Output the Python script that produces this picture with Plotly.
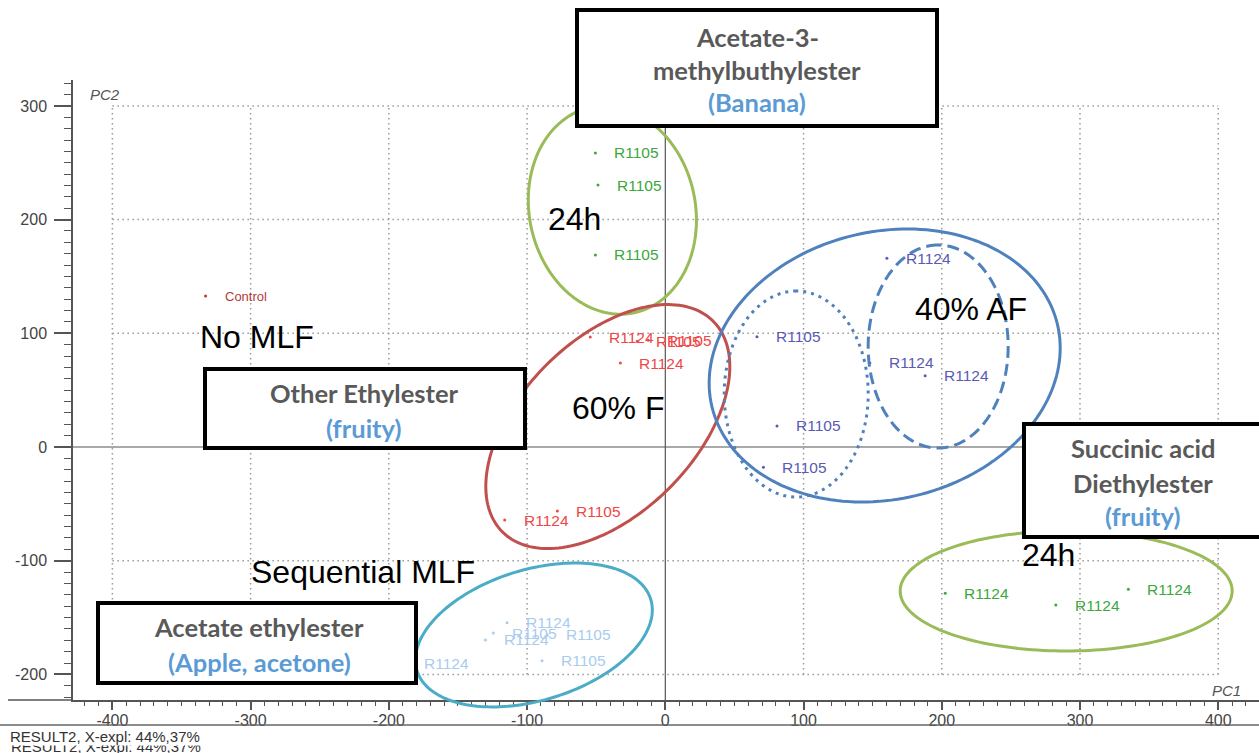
import numpy as np
import plotly.graph_objects as go

# ---------------- scores (PC1, PC2) ----------------
control_x = [-332.6]
control_y = [132.8]
control_lbl = ["Control"]

r1105_24h_x = [-50.6, -48.7, -50.6]
r1105_24h_y = [258.6, 230.4, 168.9]
r1105_24h_lbl = ["R1105", "R1105", "R1105"]

f60_x = [-54.3, -20.3, -12.3, -32.5, -116.2, -78.1]
f60_y = [96.7, 93.0, 94.0, 73.9, -64.2, -56.3]
f60_lbl = ["R1124", "R1105", "R1105", "R1124", "R1124", "R1105"]

af40_x = [160.3, 66.3, 148.0, 188.0, 80.8, 71.0]
af40_y = [166.0, 97.0, 74.0, 62.7, 18.5, -17.9]
af40_lbl = ["R1124", "R1105", "R1124", "R1124", "R1105", "R1105"]

seq_x = [-114.5, -124.4, -130.2, -85.3, -89.2, -188.0]
seq_y = [-154.5, -163.6, -169.7, -165.3, -188.0, -190.0]
seq_lbl = ["R1124", "R1105", "R1124", "R1105", "R1105", "R1124"]

r1124_24h_x = [202.5, 282.5, 335.0]
r1124_24h_y = [-128.7, -139.0, -125.2]
r1124_24h_lbl = ["R1124", "R1124", "R1124"]

x_ticks = [-400, -300, -200, -100, 0, 100, 200, 300, 400]
y_ticks = [-200, -100, 0, 100, 200, 300]

# ---------------- page geometry ----------------
W, H = 1259, 753
ML, MR, MT, MB = 73, 0, 80, 53
PW, PH = W - ML - MR, H - MT - MB
X_RANGE = [-428.5, 429.5]
Y_RANGE = [-222.5, 322.8]
X_PX = PW / (X_RANGE[1] - X_RANGE[0])
Y_PX = PH / (Y_RANGE[1] - Y_RANGE[0])


def px_x(px):
    return (px - ML) / PW


def px_y(py):
    return (H - MB - py) / PH


def data_to_paper(x, y):
    return ((x - X_RANGE[0]) / (X_RANGE[1] - X_RANGE[0]),
            (y - Y_RANGE[0]) / (Y_RANGE[1] - Y_RANGE[0]))


def ellipse_path(cx, cy, a, b, angle_deg, n=180):
    """Closed path (paper units, so it is not clipped at the axes) of an
    ellipse centred at data point (cx, cy); semi-axes a, b in screen pixels,
    rotated angle_deg on screen."""
    t = np.linspace(0, 2 * np.pi, n, endpoint=False)
    th = np.radians(angle_deg)
    ex = a * np.cos(t) * np.cos(th) - b * np.sin(t) * np.sin(th)
    ey = a * np.cos(t) * np.sin(th) + b * np.sin(t) * np.cos(th)
    xs, ys = data_to_paper(cx + ex / X_PX, cy + ey / Y_PX)
    pts = [f"{x:.5f},{y:.5f}" for x, y in zip(xs, ys)]
    return "M " + " L ".join(pts) + " Z"


GREEN_E = "#9bbb59"
RED_E = "#c0504d"
BLUE_E = "#4f81bd"
TEAL_E = "#4bacc6"
LABEL_FONT = "Liberation Sans, Arial"

groups = [
    (control_x, control_y, control_lbl, "#b23b3b", 13),
    (r1105_24h_x, r1105_24h_y, r1105_24h_lbl, "#3aa83a", 15.5),
    (f60_x, f60_y, f60_lbl, "#f04646", 15.5),
    (af40_x, af40_y, af40_lbl, "#5a5ab4", 15.5),
    (seq_x, seq_y, seq_lbl, "#a9cbee", 15.5),
    (r1124_24h_x, r1124_24h_y, r1124_24h_lbl, "#3aa83a", 15.5),
]

fig = go.Figure()
annotations = []

for gx, gy, glbl, col, fs in groups:
    fig.add_trace(go.Scatter(
        x=gx, y=gy, mode="markers",
        marker=dict(size=3, color=col),
        hoverinfo="text", text=glbl, showlegend=False,
    ))
    for x, y, t in zip(gx, gy, glbl):
        annotations.append(dict(
            x=x, y=y, xref="x", yref="y", text=t, showarrow=False,
            xanchor="left", yanchor="middle", xshift=17,
            font=dict(family=LABEL_FONT, size=fs, color=col),
        ))

shapes = []
# dotted grid bounded by the labelled range
for gx in x_ticks:
    if gx == 0:
        continue
    shapes.append(dict(type="line", xref="x", yref="y", x0=gx, x1=gx,
                       y0=y_ticks[0], y1=y_ticks[-1], layer="below",
                       line=dict(color="#9a9a9a", width=1.5, dash="1.5px,3.5px")))
for gy in y_ticks:
    if gy == 0:
        continue
    shapes.append(dict(type="line", xref="x", yref="y", x0=x_ticks[0], x1=x_ticks[-1],
                       y0=gy, y1=gy, layer="below",
                       line=dict(color="#9a9a9a", width=1.5, dash="1.5px,3.5px")))
# origin cross
shapes.append(dict(type="line", xref="x", yref="y", x0=0, x1=0,
                   y0=Y_RANGE[0], y1=Y_RANGE[1], layer="below",
                   line=dict(color="#555555", width=1.2)))
shapes.append(dict(type="line", xref="x", yref="y", x0=X_RANGE[0], x1=X_RANGE[1],
                   y0=0, y1=0, layer="below",
                   line=dict(color="#555555", width=1.2)))

# group ellipses
ellipses = [
    (-38.3, 208.4, 105, 83, 102, GREEN_E, "solid"),
    (-41.6, 18.0, 149, 87, 45, RED_E, "solid"),
    (158.7, 71.7, 177.6, 133.8, 13.4, BLUE_E, "solid"),
    (94.7, 46.6, 103, 72, 90, BLUE_E, "3px,5px"),
    (197.4, 88.4, 101.5, 70, 90, BLUE_E, "12px,6px"),
    (-95.1, -165.3, 122.2, 65.4, 16.9, TEAL_E, "solid"),
    (290.0, -126.6, 166, 60, 0, GREEN_E, "solid"),
]
for cx, cy, a, b, ang, col, dash in ellipses:
    shapes.append(dict(type="path", xref="paper", yref="paper", layer="above",
                       path=ellipse_path(cx, cy, a, b, ang),
                       line=dict(color=col, width=3, dash=dash)))

# extension of the PC1 axis line and the footer rule
shapes.append(dict(type="line", xref="paper", yref="paper",
                   x0=px_x(8), x1=0, y0=0, y1=0,
                   line=dict(color="#555555", width=1.5)))
shapes.append(dict(type="line", xref="paper", yref="paper",
                   x0=px_x(0), x1=1, y0=px_y(725), y1=px_y(725),
                   line=dict(color="#666666", width=1.5)))

# compound boxes (pixel rectangles on the page)
GRAY_T = "#595959"
BLUE_T = "#5b9bd5"
BOX_FONT = 25.5
boxes = [
    ((575, 8, 939, 128), 757, [("Acetate-3-", 37, GRAY_T), ("methylbuthylester", 70, GRAY_T),
                               ("(Banana)", 102, BLUE_T)]),
    ((203, 367, 527, 450), 364, [("Other Ethylester", 393, GRAY_T), ("(fruity)", 428, BLUE_T)]),
    ((1022, 422, 1270, 539), 1143, [("Succinic acid", 448, GRAY_T), ("Diethylester", 483, GRAY_T),
                                    ("(fruity)", 516, BLUE_T)]),
    ((96, 601, 418, 685), 259, [("Acetate ethylester", 627, GRAY_T),
                                ("(Apple, acetone)", 662, BLUE_T)]),
]
for (x0, y0, x1, y1), tx, lines in boxes:
    shapes.append(dict(type="rect", xref="paper", yref="paper", layer="above",
                       x0=px_x(x0 + 2), x1=px_x(x1 - 2), y0=px_y(y1 - 2), y1=px_y(y0 + 2),
                       fillcolor="white", line=dict(color="black", width=4)))
    for txt, ty, col in lines:
        annotations.append(dict(
            x=px_x(tx), y=px_y(ty), xref="paper", yref="paper",
            text=f"<b>{txt}</b>", showarrow=False, xanchor="center", yanchor="middle",
            font=dict(family="Lato", size=BOX_FONT, color=col),
        ))

# large group captions
captions = [
    ("No MLF", -295.7, 96.7),
    ("24h", -65.8, 200.5),
    ("60% F", -34.0, 34.3),
    ("40% AF", 221.0, 121.4),
    ("Sequential MLF", -219.0, -110.0),
    ("24h", 277.0, -95.0),
]
for txt, x, y in captions:
    annotations.append(dict(
        x=x, y=y, xref="x", yref="y", text=txt, showarrow=False,
        xanchor="center", yanchor="middle",
        font=dict(family=LABEL_FONT, size=32, color="black"),
    ))

# axis names
annotations.append(dict(x=px_x(88), y=px_y(95), xref="paper", yref="paper", text="<i>PC2</i>",
                        showarrow=False, xanchor="left", yanchor="middle",
                        font=dict(family=LABEL_FONT, size=15, color="#555555")))
annotations.append(dict(x=px_x(1243), y=px_y(690), xref="paper", yref="paper", text="<i>PC1</i>",
                        showarrow=False, xanchor="right", yanchor="middle",
                        font=dict(family=LABEL_FONT, size=15, color="#555555")))

# footer (second line partly hidden behind the first)
FOOTER = "RESULT2, X-expl: 44%,37%"
annotations.append(dict(x=px_x(9), y=px_y(747), xref="paper", yref="paper",
                        text=FOOTER, showarrow=False,
                        xanchor="left", yanchor="middle",
                        font=dict(family=LABEL_FONT, size=15, color="#333333")))
annotations.append(dict(x=px_x(9), y=px_y(736), xref="paper", yref="paper",
                        text=FOOTER, showarrow=False,
                        xanchor="left", yanchor="middle", bgcolor="white", borderpad=0,
                        font=dict(family=LABEL_FONT, size=15, color="#333333")))

axis_common = dict(
    showgrid=False, zeroline=False, showline=True, linecolor="#555555", linewidth=1.5,
    ticks="outside", tickcolor="#555555", tickwidth=1.5, tickmode="array",
    tickfont=dict(family=LABEL_FONT, size=16, color="#444444"),
)

fig.update_layout(
    width=W, height=H,
    margin=dict(l=ML, r=MR, t=MT, b=MB),
    paper_bgcolor="white", plot_bgcolor="white",
    showlegend=False,
    xaxis=dict(range=X_RANGE, tickvals=x_ticks, ticktext=[str(v) for v in x_ticks],
               ticklen=8, ticklabelstandoff=-3,
               minor=dict(tickmode="linear", tick0=0, dtick=10, ticks="outside", ticklen=4,
                          tickwidth=1, tickcolor="#555555"),
               **axis_common),
    yaxis=dict(range=Y_RANGE, tickvals=y_ticks, ticktext=[str(v) for v in y_ticks],
               ticklen=17, ticklabelstandoff=4,
               minor=dict(tickmode="linear", tick0=0, dtick=10, ticks="outside", ticklen=7,
                          tickwidth=1, tickcolor="#555555"),
               **axis_common),
    shapes=shapes,
    annotations=annotations,
)

fig.write_html("out.html")
